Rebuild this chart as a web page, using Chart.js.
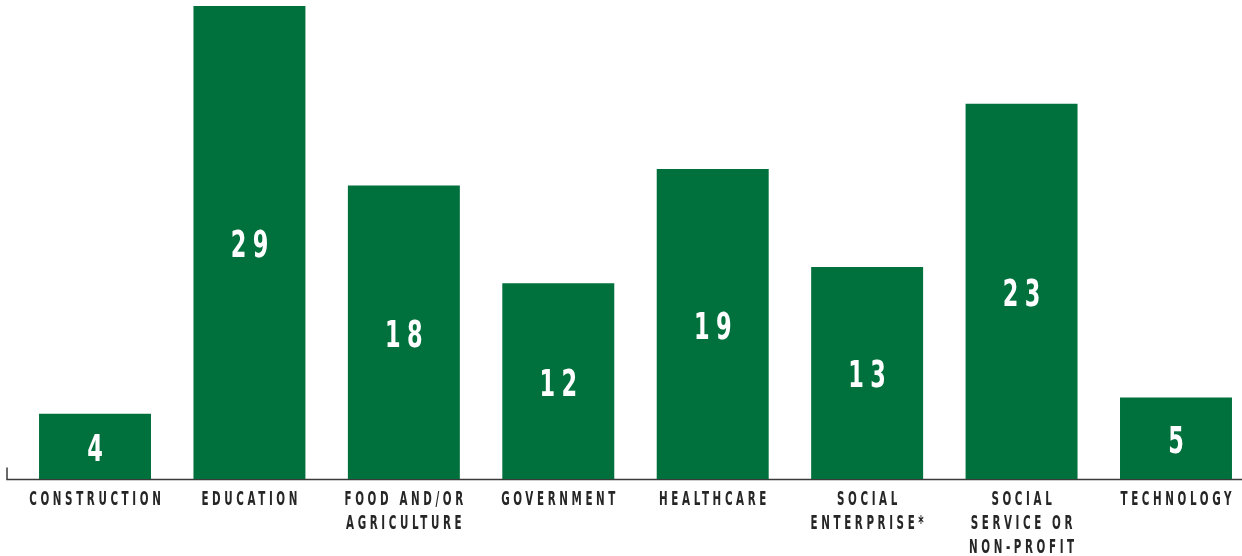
<!DOCTYPE html>
<html>
<head>
<meta charset="utf-8">
<script src="https://cdn.jsdelivr.net/npm/chart.js@4"></script>
<style>
  html, body { margin: 0; padding: 0; background: #fff; overflow: hidden; }
  #wrap { width: 1242px; height: 556px; overflow: hidden; }
</style>
</head>
<body>
<div id="wrap"><canvas id="sector-chart" width="1262" height="556"></canvas></div>
<script>
// Respondents by sector
const sectors = [
  ['CONSTRUCTION'],
  ['EDUCATION'],
  ['FOOD AND/OR', 'AGRICULTURE'],
  ['GOVERNMENT'],
  ['HEALTHCARE'],
  ['SOCIAL', 'ENTERPRISE*'],
  ['SOCIAL', 'SERVICE OR', 'NON-PROFIT'],
  ['TECHNOLOGY'],
];
const counts = [4, 29, 18, 12, 19, 13, 23, 5];

const GREEN = '#00703c';
const INK = '#262626';
const FACE = '"DejaVu Sans Condensed", "DejaVu Sans", sans-serif';

// pick a font size whose capitals are `cap` px tall
function sizeForCap(ctx, weight, cap) {
  ctx.font = weight + ' 100px ' + FACE;
  const a = ctx.measureText('H').actualBoundingBoxAscent || 73;
  return cap * 100 / a;
}

// squeezed, letter-spaced text centred on x, baseline at y
function drawTracked(ctx, text, x, y, squeeze, tracking) {
  ctx.save();
  ctx.letterSpacing = (tracking / squeeze) + 'px';
  const w = (ctx.measureText(text).width - tracking / squeeze) * squeeze;
  ctx.translate(x - w / 2, y);
  ctx.scale(squeeze, 1);
  ctx.textAlign = 'left';
  ctx.textBaseline = 'alphabetic';
  ctx.fillText(text, 0, 0);
  ctx.restore();
}

const baseLine = {
  id: 'baseLine',
  beforeDatasetsDraw(chart) {
    const { ctx } = chart;
    const y = chart.scales.y.getPixelForValue(0) + 0.5;
    ctx.save();
    ctx.strokeStyle = '#3a3a3a';
    ctx.lineWidth = 1.5;
    ctx.beginPath();
    ctx.moveTo(7, y - 12);
    ctx.lineTo(7, y);
    ctx.lineTo(chart.width, y);
    ctx.stroke();
    ctx.restore();
  }
};

const barText = {
  id: 'barText',
  afterDatasetsDraw(chart) {
    const { ctx } = chart;
    const meta = chart.getDatasetMeta(0);
    ctx.save();
    const size = sizeForCap(ctx, 'bold', 27);
    ctx.font = 'bold ' + size + 'px ' + FACE;
    const adv = ctx.measureText('0').width;
    const squeeze = 12.5 / (adv * 0.8);
    const tracking = 22 - adv * squeeze;
    ctx.fillStyle = '#fff';
    meta.data.forEach((bar, i) => {
      const mid = (bar.y + bar.base) / 2 + 1;
      drawTracked(ctx, String(counts[i]), bar.x, mid + 13.5, squeeze, tracking);
    });
    ctx.restore();
  }
};

const sectorLabels = {
  id: 'sectorLabels',
  afterDraw(chart) {
    const { ctx } = chart;
    const x = chart.scales.x;
    const base = chart.chartArea.bottom + 25.5;
    ctx.save();
    const size = sizeForCap(ctx, 'bold', 14);
    ctx.font = 'bold ' + size + 'px ' + FACE;
    const squeeze = 0.6;
    const tracking = (111 - ctx.measureText('TECHNOLOGY').width * squeeze) / 9;
    ctx.fillStyle = INK;
    sectors.forEach((lines, i) => {
      const cx = x.getPixelForValue(i);
      lines.forEach((line, j) => {
        drawTracked(ctx, line, cx, base + j * 24, squeeze, tracking);
      });
    });
    ctx.restore();
  }
};

new Chart(document.getElementById('sector-chart'), {
  type: 'bar',
  data: {
    labels: sectors.map(s => s.join(' ')),
    datasets: [{
      data: counts,
      backgroundColor: GREEN,
      borderWidth: 0,
      categoryPercentage: 1,
      barPercentage: 0.725,
    }]
  },
  options: {
    responsive: false,
    animation: false,
    layout: { padding: { left: 17.8, right: 8.8, top: 6, bottom: 0 } },
    scales: {
      x: {
        grid: { display: false },
        border: { display: false },
        ticks: { display: false },
        afterFit(scale) { scale.height = 77; },
      },
      y: {
        display: false,
        min: 0, max: 29,
      }
    },
    plugins: { legend: { display: false }, tooltip: { enabled: false } }
  },
  plugins: [baseLine, barText, sectorLabels]
});
</script>
</body>
</html>
